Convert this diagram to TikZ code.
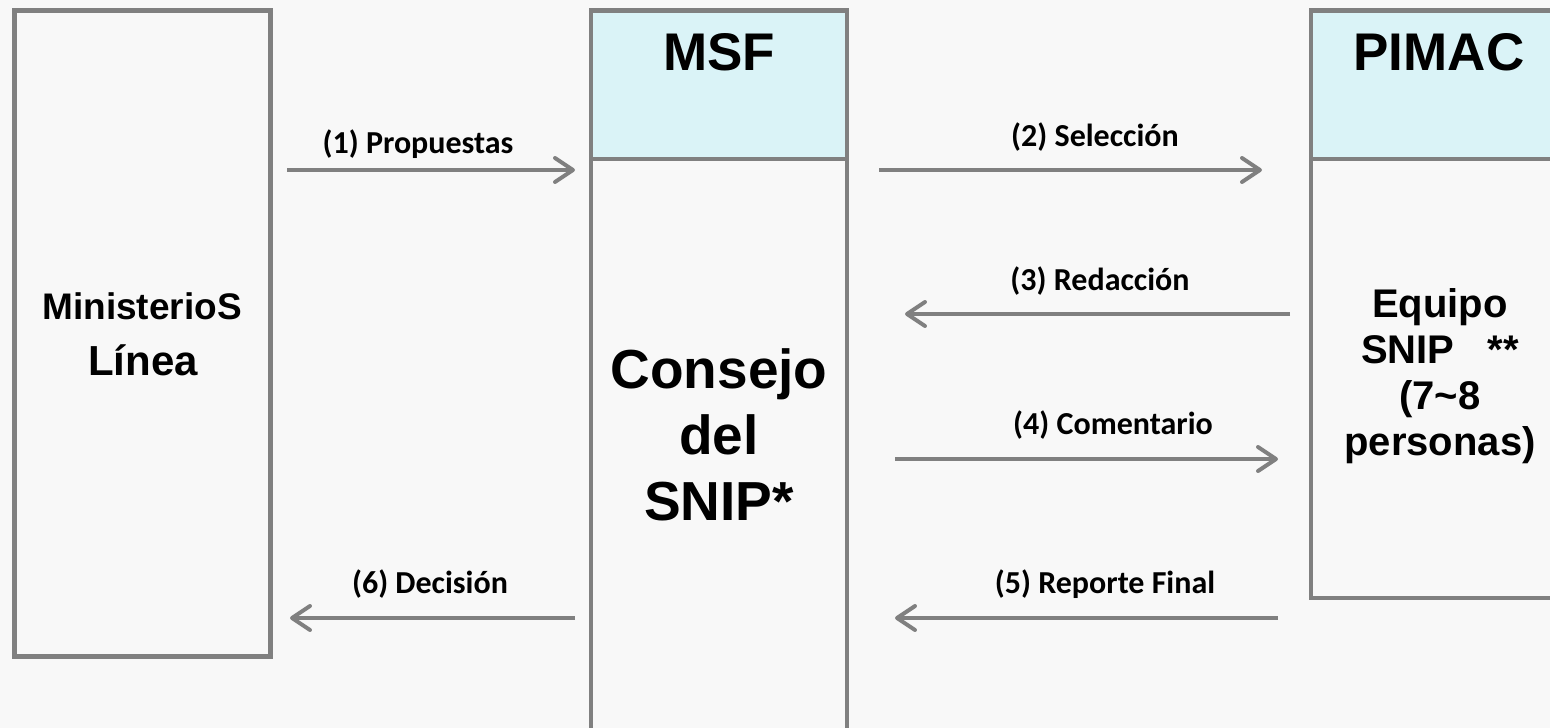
\documentclass[tikz,border=0pt]{standalone}
\usepackage{fontspec}
\setmainfont{Liberation Sans}
\newfontfamily\lblfont{Carlito}
\usetikzlibrary{arrows.meta}
\definecolor{lc}{RGB}{128,128,128}
\definecolor{hd}{RGB}{218,243,247}
\definecolor{bg}{RGB}{248,248,248}
\tikzset{
  boxline/.style={draw=lc, line width=4.3pt, inner sep=0pt, outer sep=0pt, anchor=north west},
  hdr/.style={boxline, fill=hd},
  flow/.style={draw=lc, line width=4pt, -{Straight Barb[length=18pt,width=24pt,round]}},
  lbl/.style={font=\lblfont\bfseries\fontsize{32}{36}\selectfont, inner sep=0pt},
  ttl/.style={font=\bfseries\fontsize{53}{60}\selectfont, inner sep=0pt},
  bigtxt/.style={align=center, inner sep=0pt, font=\bfseries\fontsize{55}{66}\selectfont},
  midtxt/.style={align=center, inner sep=0pt, font=\bfseries\fontsize{40}{46}\selectfont},
}
\begin{document}
\begin{tikzpicture}[x=1pt,y=-1pt]
\fill[bg] (0,0) rectangle (1550,728);
\useasboundingbox (0,0) rectangle (1550,728);
\clip (0,0) rectangle (1550,728);

% boxes
\node[boxline, minimum width=256pt, minimum height=646pt] (ml) at (14.5,10.5) {};
\node[hdr, minimum width=256pt, minimum height=148.5pt] (msfh) at (591,10.5) {};
\node[boxline, minimum width=256pt, minimum height=590pt] (msfb) at (591,159) {};
\node[hdr, minimum width=270pt, minimum height=148.5pt] (pimh) at (1311,10.5) {};
\node[boxline, minimum width=270pt, minimum height=439pt] (pimb) at (1311,159) {};

% arrow end points
\coordinate (a1s) at (287,170);  \coordinate (a1e) at (575,170);
\coordinate (a2s) at (879,170);  \coordinate (a2e) at (1262,170);
\coordinate (a3s) at (1290,314); \coordinate (a3e) at (905,314);
\coordinate (a4s) at (895,459);  \coordinate (a4e) at (1278,459);
\coordinate (a5s) at (1278,618); \coordinate (a5e) at (895,618);
\coordinate (a6s) at (575,618);  \coordinate (a6e) at (290,618);

\draw[flow] (a1s) -- (a1e);
\draw[flow] (a2s) -- (a2e);
\draw[flow] (a3s) -- (a3e);
\draw[flow] (a4s) -- (a4e);
\draw[flow] (a5s) -- (a5e);
\draw[flow] (a6s) -- (a6e);

% labels
\node[lbl] (l1) at (418,144) {(1) Propuestas};
\node[lbl] (l2) at (1095,137) {(2) Selección};
\node[lbl] (l3) at (1100,281) {(3) Redacción};
\node[lbl] (l4) at (1113,425) {(4) Comentario};
\node[lbl] (l5) at (1105,584) {(5) Reporte Final};
\node[lbl] (l6) at (430,584) {(6) Decisión};

% box texts
\node[ttl] (tmsf) at (719,52) {MSF};
\node[ttl] (tpim) at (1439,52) {PIMAC};
\node[inner sep=0pt, font=\bfseries\fontsize{37}{44}\selectfont] (tmin) at (142,306) {MinisterioS};
\node[inner sep=0pt, font=\bfseries\fontsize{42}{48}\selectfont] (tlin) at (143,360) {Línea};
\node[bigtxt] (tcon) at (719,435) {Consejo\\del\\SNIP*};
\node[midtxt] (tequ) at (1440,376) {Equipo\\SNIP~~~**\\(7\textasciitilde 8\\personas)};
\end{tikzpicture}
\end{document}
